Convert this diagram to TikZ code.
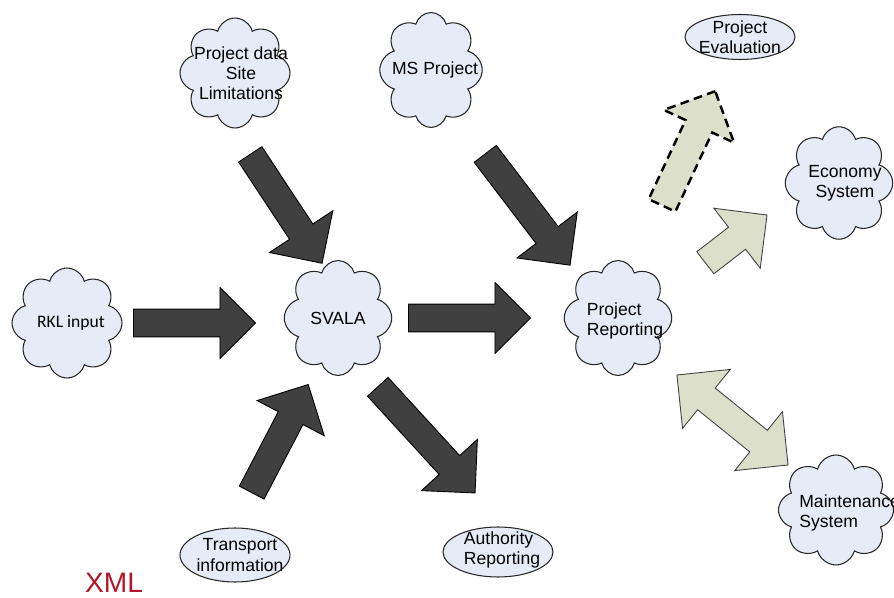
\documentclass[tikz,border=0pt]{standalone}
\usepackage{fontspec}
\setmainfont{Liberation Sans}
\newfontfamily\calibri{Carlito}
\usetikzlibrary{shapes.symbols,shapes.arrows,shapes.geometric}

\definecolor{cloudblue}{HTML}{E6ECF7}
\definecolor{darkarrow}{HTML}{404040}
\definecolor{sagegreen}{HTML}{DCDFCA}
\definecolor{xmlred}{HTML}{B5152B}

\begin{document}
\begin{tikzpicture}[
    x=0.02cm, y=-0.02cm,
    txt/.style={font=\fontsize{10}{11.5}\selectfont, align=center, inner sep=0pt},
    puff/.style={cloud, cloud puffs=8, cloud ignores aspect, draw=black!85,
                 fill=cloudblue, line width=0.6pt, inner sep=0pt},
    oval/.style={ellipse, draw=black!85, fill=cloudblue, line width=0.6pt,
                 inner sep=0pt, minimum width=2.2cm},
    bigarrow/.style={single arrow, draw=black, fill=darkarrow, line width=0.5pt,
                 inner xsep=0pt, inner ysep=0.27cm,
                 single arrow head extend=0.48cm, anchor=tail},
    palearrow/.style={bigarrow, fill=sagegreen, draw=black!75}]

  \useasboundingbox (0,0) rectangle (894,598);

  % clouds
  \node[puff, minimum width=2.2cm, minimum height=2.2cm,
        label={[txt, xshift=0.12cm]center:Project data\\Site\\Limitations}]
        (prjdata) at (235,73) {};
  \node[puff, minimum width=2.05cm, minimum height=2.3cm,
        label={[txt, xshift=0.08cm]center:MS Project}] (msprj) at (431,70) {};
  \node[puff, minimum width=2.2cm, minimum height=2.2cm,
        label={[txt, font=\calibri\fontsize{10}{12}\selectfont, xshift=0.08cm]center:RKL input}]
        (rkl) at (67,323) {};
  \node[puff, minimum width=2.15cm, minimum height=2.3cm,
        label={[txt]center:SVALA}] (svala) at (338,318) {};
  \node[puff, minimum width=2.15cm, minimum height=2.3cm,
        label={[txt, align=left, xshift=0.14cm, yshift=-0.06cm]center:Project\\Reporting}]
        (prjrep) at (618,318) {};
  \node[puff, minimum width=2.15cm, minimum height=2.25cm,
        label={[txt, xshift=0.12cm]center:Economy\\System}] (economy) at (839,183) {};
  \node[puff, minimum width=2.3cm, minimum height=2.2cm] (maint) at (836,510) {};
  \node[txt, align=left, anchor=west] (mainttext) at (799,513) {Maintenance\\System};

  % ovals
  \node[oval, minimum height=0.9cm,
        label={[txt]center:Project\\Evaluation}] (prjeval) at (740,37) {};
  \node[oval, minimum height=1.08cm,
        label={[txt, xshift=0.1cm]center:Transport\\information}] (transport) at (235,555) {};
  \node[oval, minimum height=1.0cm,
        label={[txt, align=left, xshift=0.08cm, yshift=0.04cm]center:Authority\\Reporting}]
        (authority) at (498,552) {};

  % block arrows
  \node[bigarrow, minimum height=2.61cm, rotate=-56.6] (a1) at (250,154) {};
  \node[bigarrow, minimum height=2.80cm, rotate=-52.7] (a2) at (485,153.5) {};
  \node[bigarrow, minimum height=2.44cm, single arrow head extend=0.43cm] (a3) at (133,323) {};
  \node[bigarrow, minimum height=2.44cm, single arrow head extend=0.43cm] (a4) at (408,318) {};
  \node[bigarrow, minimum height=2.44cm, rotate=62.4] (a5) at (251.5,493) {};
  \node[bigarrow, minimum height=2.88cm, rotate=-47.5] (a6) at (377.5,386.5) {};
  \node[palearrow, minimum height=2.52cm, rotate=65, draw=black,
        line width=1.4pt, dash pattern=on 5pt off 3pt] (a7) at (661.5,206.5) {};
  \node[palearrow, minimum height=1.56cm, rotate=37.7] (a8) at (705,263) {};
  \node[double arrow, draw=black!75, fill=sagegreen, line width=0.5pt,
        inner xsep=0pt, inner ysep=0.27cm, double arrow head extend=0.48cm,
        minimum height=2.86cm, rotate=-39] (a9) at (732.5,420) {};

  \node[font=\fontsize{16}{18}\selectfont, text=xmlred] (xml) at (114,583) {XML};
\end{tikzpicture}
\end{document}
